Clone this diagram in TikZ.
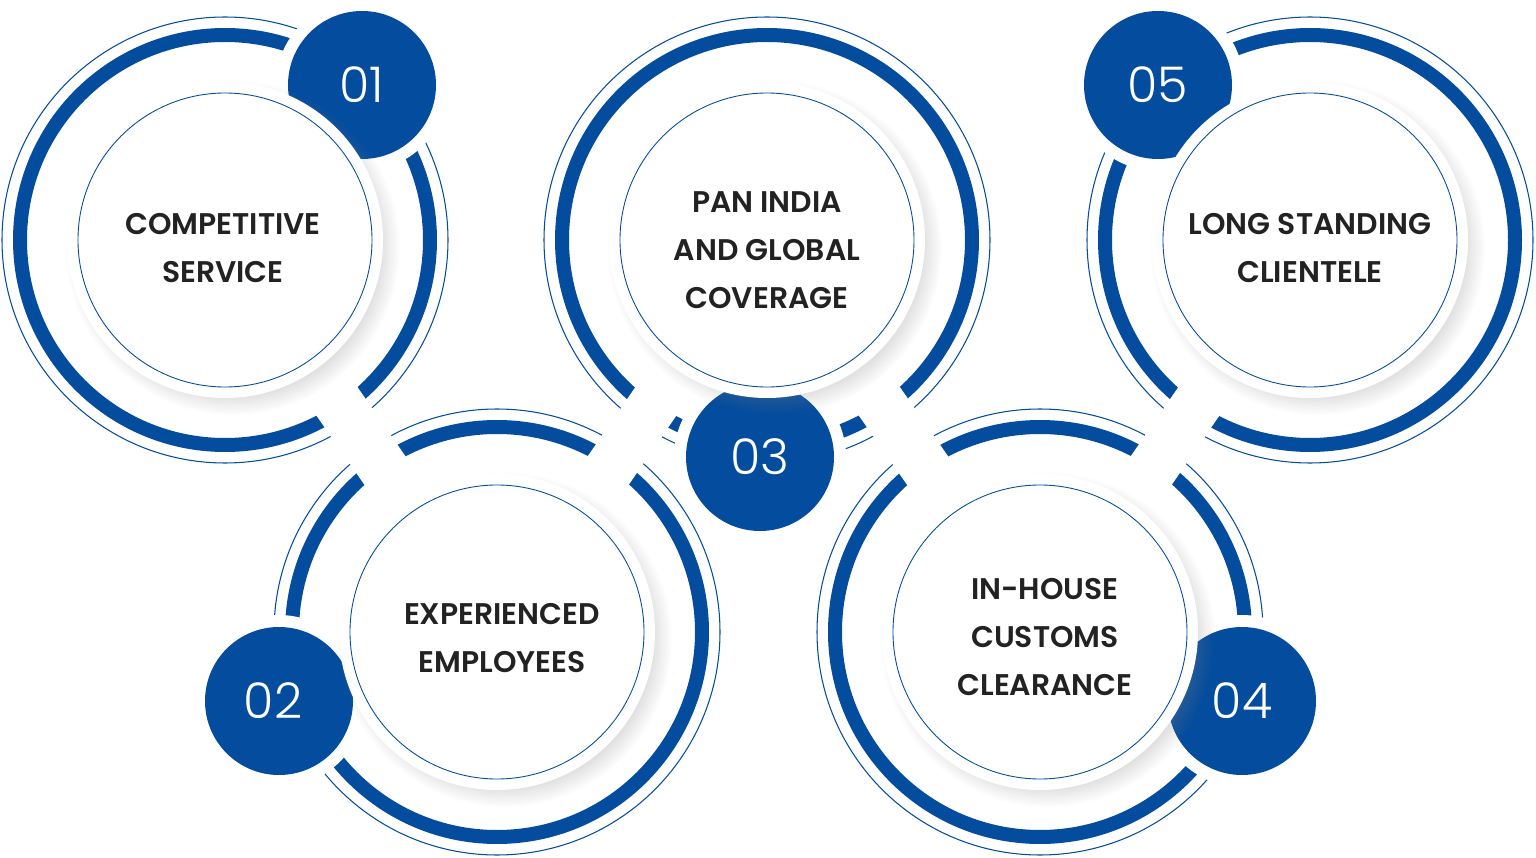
\documentclass[tikz,border=0pt]{standalone}
\usepackage{fontspec}
\setmainfont{Poppins}
\IfFontExistsTF{Poppins SemiBold}{\newfontfamily\headfont{Poppins SemiBold}}{\newfontfamily\headfont{Poppins}[UprightFont=*-Bold]}
\IfFontExistsTF{Poppins Light}{\newfontfamily\numfont{Poppins Light}}{\newfontfamily\numfont{Poppins}}
\usetikzlibrary{shadows, calc}
\definecolor{brandblue}{RGB}{3,76,158}
\definecolor{inktext}{RGB}{34,34,34}

\begin{document}
\begin{tikzpicture}[x=0.02cm, y=-0.02cm,
    ring/.style={draw=brandblue, line width=0.28cm},
    thinring/.style={draw=brandblue, line width=0.6pt},
    gapband/.style={draw=white, line width=1cm},
    halo/.style={fill=white},
    badge/.style={fill=brandblue},
    disc/.style={fill=white, circular drop shadow={shadow scale=1.06, shadow xshift=4pt, shadow yshift=-4pt, opacity=0.3}},
    inner/.style={draw=brandblue, line width=0.5pt},
    txt/.style={text=inktext, align=center, font=\headfont\fontsize{17}{27.5}\selectfont},
    num/.style={text=white, font=\numfont\fontsize{28}{28}\selectfont}]
  \useasboundingbox (0,0) rectangle (1536,858);

  % Centres
  \coordinate (c1) at (225,240);
  \coordinate (c2) at (497,632);
  \coordinate (c3) at (767,240);
  \coordinate (c4) at (1040,632);
  \coordinate (c5) at (1310,240);

  % Badge centres
  \coordinate (b1) at (362,85);
  \coordinate (b2) at (279,701);
  \coordinate (b3) at (760,457);
  \coordinate (b4) at (1242,701);
  \coordinate (b5) at (1158,85);

  % Rings
  \foreach \c in {c1,c2,c3,c4,c5} {
    \draw[ring] (\c) circle (205);
    \draw[thinring] (\c) circle (223);
  }

  % Gaps between neighbours
  \draw[gapband] (c1) -- (c2);
  \draw[gapband] (c2) -- (c3);
  \draw[gapband] (c3) -- (c4);
  \draw[gapband] (c4) -- (c5);

  % Badges
  \foreach \b in {b1,b2,b3,b4,b5} {
    \fill[halo] (\b) circle (86);
    \fill[badge] (\b) circle (74);
  }

  % Discs
  \foreach \c in {c1,c2,c3,c4,c5} {
    \path[disc] (\c) circle (158);
    \draw[inner] (\c) circle (147);
  }

  % Texts
  \node[txt] (t1) at ($(c1)+(-2,8)$) {COMPETITIVE\\SERVICE};
  \node[txt] (t2) at ($(c2)+(5,6)$) {EXPERIENCED\\EMPLOYEES};
  \node[txt] (t3) at ($(c3)+(0,10)$) {PAN INDIA\\AND GLOBAL\\COVERAGE};
  \node[txt] (t4) at ($(c4)+(5,5)$) {IN-HOUSE\\CUSTOMS\\CLEARANCE};
  \node[txt] (t5) at ($(c5)+(0,8)$) {LONG STANDING\\CLIENTELE};

  % Numbers
  \node[num] (n1) at (b1) {01};
  \node[num] (n2) at ($(b2)+(-6,0)$) {02};
  \node[num] (n3) at (b3) {03};
  \node[num] (n4) at (b4) {04};
  \node[num] (n5) at (b5) {05};
\end{tikzpicture}
\end{document}
